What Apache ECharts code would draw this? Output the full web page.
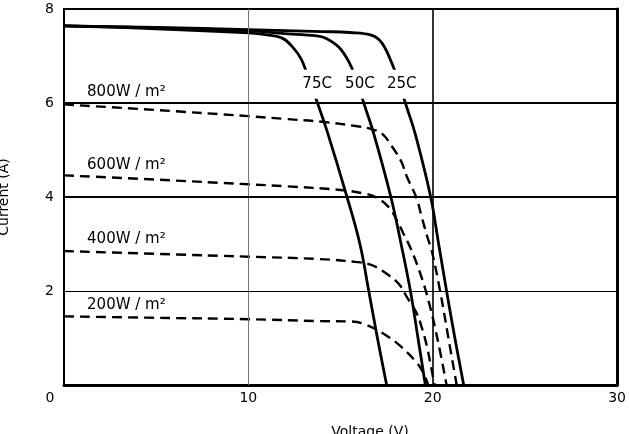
<!DOCTYPE html>
<html>
<head>
<meta charset="utf-8">
<script src="https://cdn.jsdelivr.net/npm/echarts@6/dist/echarts.min.js"></script>
<style>
html,body{margin:0;padding:0;background:#fff;}
#main{width:629px;height:434px;}
</style>
</head>
<body>
<div id="main"></div>
<script>
// I-V curves, [voltage, current]
var curve25C=[[0,7.64],[5,7.61],[10,7.56],[14,7.52],[15.5,7.5],[16.7,7.44],[17.24,7.28],[17.78,6.85],[18.1,6.5],[18.6,5.9],[19.08,5.3],[19.89,4.0],[20.3,3.05],[20.76,1.98],[21.2,1.0],[21.68,0]];
var curve50C=[[0,7.64],[5,7.6],[10,7.54],[11.8,7.48],[13.7,7.43],[14.2,7.38],[14.9,7.19],[15.46,6.87],[15.8,6.55],[16.3,5.95],[16.8,5.35],[17.73,4.0],[18.3,2.97],[18.8,1.98],[19.2,1.0],[19.6,0]];
var curve75C=[[0,7.64],[5,7.58],[10,7.49],[11,7.45],[11.84,7.38],[12.38,7.2],[12.86,6.94],[13.2,6.6],[13.75,6.0],[14.27,5.4],[15.35,4.0],[16.05,3.0],[16.54,1.98],[17.0,1.0],[17.5,0]];
var curve800W=[[0,5.97],[5,5.85],[10,5.72],[12,5.66],[14,5.6],[16,5.5],[16.7,5.44],[17.25,5.35],[17.8,5.07],[18.3,4.75],[18.6,4.43],[19.1,4.0],[19.4,3.58],[19.7,3.16],[19.95,2.85],[20.4,2.0],[20.85,1.0],[21.3,0]];
var curve600W=[[0,4.46],[5,4.37],[10,4.27],[12,4.23],[15,4.15],[16.2,4.08],[16.9,4.0],[17.6,3.79],[18.05,3.51],[18.4,3.23],[18.8,2.91],[19.3,2.4],[19.8,1.75],[20.3,0.9],[20.75,0]];
var curve400W=[[0,2.85],[5,2.79],[10,2.73],[13.8,2.68],[15.8,2.62],[16.7,2.55],[17.6,2.34],[18.2,2.13],[18.6,1.87],[19.1,1.55],[19.4,1.23],[19.7,0.8],[19.9,0.4],[20.1,0]];
var curve200W=[[0,1.46],[5,1.43],[10,1.40],[13.8,1.36],[15.6,1.35],[16.4,1.28],[17.46,1.06],[18.3,0.81],[19.1,0.49],[19.5,0.25],[19.75,0]];

var xTicks=[0,10,20,30];
var yTicks=[0,2,4,6,8];
// annotation text and where it sits (data units)
var irrLabels=[['800W / m²',1.25,6.23],['600W / m²',1.25,4.68],['400W / m²',1.25,3.1],['200W / m²',1.25,1.7]];
var tempLabels=[['75C',13.73,6.4],['50C',16.05,6.4],['25C',18.32,6.4]];

var font='DejaVu Sans';
var myChart=echarts.init(document.getElementById('main'));

function solid(name,data){
    return {name:name,type:'line',data:data,showSymbol:false,symbol:'none',smooth:0.4,z:3,
        lineStyle:{color:'#000',width:2.8},animation:false};
}
function dashed(name,data){
    return {name:name,type:'line',data:data,showSymbol:false,symbol:'none',smooth:0.4,z:3,
        lineStyle:{color:'#000',width:2.4,type:[10,6]},animation:false};
}

var markData=[];
$each=function(arr,fn){for(var i=0;i<arr.length;i++)fn(arr[i]);};
$each(irrLabels,function(l){
    markData.push({coord:[l[1],l[2]],value:l[0],
        label:{formatter:l[0],align:'left',fontSize:15}});
});
$each(tempLabels,function(l){
    markData.push({coord:[l[1],l[2]],value:l[0],
        label:{formatter:l[0],align:'center',fontSize:15,backgroundColor:'#fff',padding:[7,1]}});
});

var option={
    animation:false,
    grid:{left:64,right:10,top:9,bottom:49,show:true,borderColor:'#000',borderWidth:2,backgroundColor:'transparent'},
    xAxis:[{
        type:'value',min:0,max:30,interval:10,
        axisLine:{show:true,lineStyle:{color:'#000',width:3}},
        axisTick:{show:false},
        splitLine:{show:false},
        axisLabel:{color:'#000',fontFamily:font,fontSize:14,margin:6,
            formatter:function(v){return v===0?'{z|0}':String(v);},
            rich:{z:{fontFamily:font,fontSize:14,color:'#000',padding:[0,28,0,0]}}}
    }],
    yAxis:[{
        type:'value',min:0,max:8,interval:2,
        axisLine:{show:true,lineStyle:{color:'#000',width:2}},
        axisTick:{show:false},
        splitLine:{show:false},
        axisLabel:{color:'#000',fontFamily:font,fontSize:14,margin:10,
            formatter:function(v){return v===0?'':String(v);}}
    },{
        type:'value',min:0,max:8,interval:2,position:'right',
        axisLine:{show:true,lineStyle:{color:'#000',width:3}},
        axisTick:{show:false},axisLabel:{show:false},splitLine:{show:false}
    }],
    graphic:[
        {type:'text',x:4,y:197,rotation:Math.PI/2,
            style:{text:'Current (A)',fontFamily:font,fontSize:14,fill:'#000',align:'center',verticalAlign:'middle'}},
        {type:'text',x:370,y:432,
            style:{text:'Voltage (V)',fontFamily:font,fontSize:14,fill:'#000',align:'center',verticalAlign:'middle'}}
    ],
    series:[
        {type:'line',data:[],z:1,silent:true,
            markLine:{silent:true,symbol:'none',label:{show:false},animation:false,
                data:[
                    {xAxis:10,lineStyle:{color:'#777',width:1,type:'solid'}},
                    {xAxis:20,lineStyle:{color:'#000',width:1.6,type:'solid'}},
                    {yAxis:2,lineStyle:{color:'#000',width:1.2,type:'solid'}},
                    {yAxis:4,lineStyle:{color:'#000',width:2,type:'solid'}},
                    {yAxis:6,lineStyle:{color:'#000',width:2,type:'solid'}}
                ]}},
        solid('25C',curve25C),
        solid('50C',curve50C),
        solid('75C',curve75C),
        dashed('800W',curve800W),
        dashed('600W',curve600W),
        dashed('400W',curve400W),
        dashed('200W',curve200W),
        {type:'scatter',data:[],z:10,silent:true,
            markPoint:{symbol:'circle',symbolSize:0,animation:false,
                itemStyle:{color:'transparent'},
                label:{show:true,position:'inside',color:'#000',fontFamily:font},
                data:markData}}
    ]
};

myChart.setOption(option);
</script>
</body>
</html>
